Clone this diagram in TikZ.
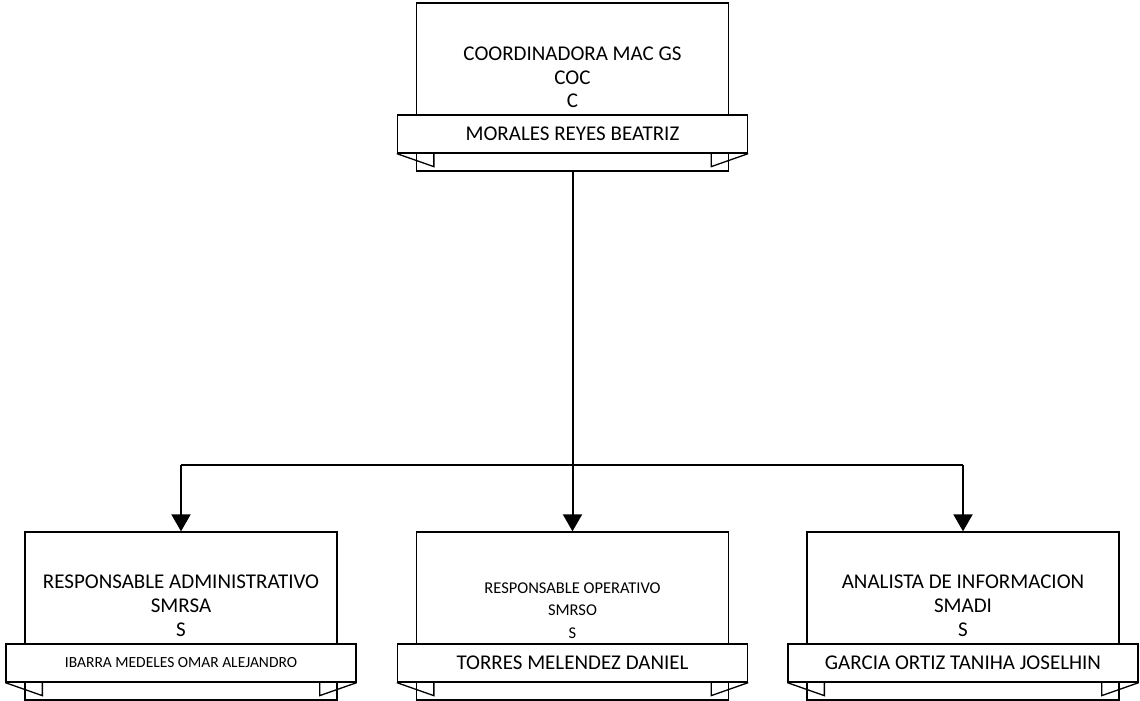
\documentclass[tikz,border=0pt]{standalone}
\usepackage{fontspec}
\setmainfont{Carlito}
\usetikzlibrary{arrows.meta}
\tikzset{
  mainbox/.style={draw, line width=1.3pt, minimum width=312pt, minimum height=168pt, inner sep=0pt, fill=white},
  bannerbox/.style={draw, line width=1.3pt, minimum width=350pt, minimum height=38pt, inner sep=0pt, fill=white},
  tail/.style={draw, line width=1.3pt, line join=miter},
  titletext/.style={align=center, inner sep=0pt},
  conn/.style={line width=2pt},
  arr/.style={line width=2pt, -{Triangle[length=17pt, width=19pt]}},
  bigf/.style={font=\fontsize{21}{24}\selectfont},
  bigtop/.style={font=\fontsize{21}{23.5}\selectfont},
  smallf/.style={font=\fontsize{16.5}{22.5}\selectfont},
  tinyf/.style={font=\fontsize{15.5}{16}\selectfont}
}
\newcommand{\orgunit}[8]{%
  % #1 name, #2 cx, #3 top y, #4 title style, #5 title, #6 banner style, #7 banner text, #8 title offset
  \node[mainbox] (#1) at (#2, #3+84) {};
  \node[titletext, #4] (#1t) at (#2, #3+#8) {#5};
  \node[bannerbox, #6] (#1b) at (#2, #3+131) {#7};
  \draw[tail] (#1b.south west) -- ([xshift=37pt, yshift=-13pt]#1b.south west) -- ([xshift=37pt]#1b.south west);
  \draw[tail] (#1b.south east) -- ([xshift=-37pt, yshift=-13pt]#1b.south east) -- ([xshift=-37pt]#1b.south east);
}
\begin{document}
\begin{tikzpicture}[x=1pt, y=-1pt]
\useasboundingbox (0,0) rectangle (1140,701);
\orgunit{top}{572.5}{3}{bigtop}{COORDINADORA MAC GS\\COC\\C}{bigf}{MORALES REYES BEATRIZ}{74.5}
\orgunit{left}{181}{532}{bigf}{RESPONSABLE ADMINISTRATIVO\\SMRSA\\S}{tinyf}{IBARRA MEDELES OMAR ALEJANDRO}{73.5}
\orgunit{mid}{572.5}{532}{smallf}{RESPONSABLE OPERATIVO\\SMRSO\\S}{bigf}{TORRES MELENDEZ DANIEL}{78.5}
\orgunit{right}{963}{532}{bigf}{ANALISTA DE INFORMACION\\SMADI\\S}{bigf}{GARCIA ORTIZ TANIHA JOSELHIN}{73.5}
\coordinate (j) at (572.5, 465);
\draw[conn] (top.south) -- (j);
\draw[conn] (left.north |- j) -- (right.north |- j);
\draw[arr] (left.north |- j) -- (left.north);
\draw[arr] (j) -- (mid.north);
\draw[arr] (right.north |- j) -- (right.north);
\end{tikzpicture}
\end{document}
